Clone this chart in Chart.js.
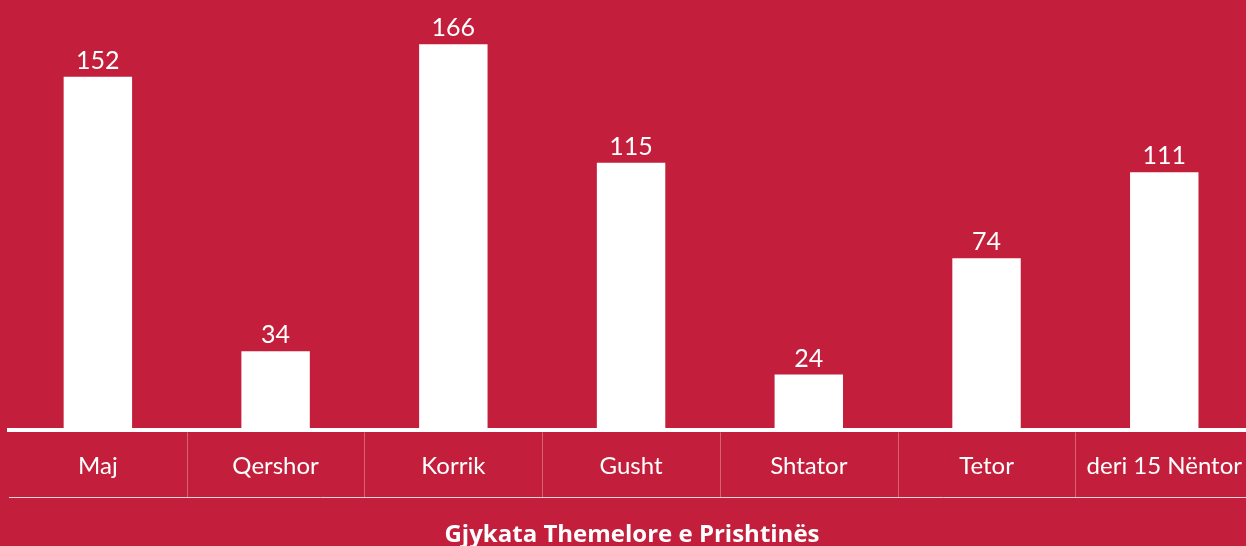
<!DOCTYPE html>
<html>
<head>
<meta charset="utf-8">
<script src="https://cdn.jsdelivr.net/npm/chart.js@4/dist/chart.umd.min.js"></script>
<style>
    html, body { margin: 0; padding: 0; background: #c31f3c; overflow: hidden; }
    #wrap { width: 1255px; height: 546px; position: relative; }
</style>
</head>
<body>
<div id="wrap"><canvas id="courtChart"></canvas></div>
<script>
const months = ['Maj', 'Qershor', 'Korrik', 'Gusht', 'Shtator', 'Tetor', 'deri 15 Nëntor'];
const cases = [152, 34, 166, 115, 24, 74, 111];
const chartTitle = 'Gjykata Themelore e Prishtinës';

const fontFamily = 'Lato, "Open Sans", sans-serif';

// numbers above the bars, separators under the axis, bottom rule
const decorations = {
    id: 'decorations',
    afterDatasetsDraw(chart) {
        const ctx = chart.ctx;
        const meta = chart.getDatasetMeta(0);
        ctx.save();
        ctx.fillStyle = '#fff';
        ctx.font = '25px ' + fontFamily;
        ctx.textAlign = 'center';
        ctx.textBaseline = 'alphabetic';
        meta.data.forEach((bar, i) => {
            ctx.fillText(cases[i], bar.x, bar.y - 8);
        });

        const x = chart.scales.x;
        const area = chart.chartArea;
        const ruleY = 497.5;
        ctx.strokeStyle = 'rgba(255,255,255,0.3)';
        ctx.lineWidth = 1;
        for (let i = 0; i < months.length - 1; i++) {
            const sx = Math.round((x.getPixelForValue(i) + x.getPixelForValue(i + 1)) / 2) + 0.5;
            ctx.beginPath();
            ctx.moveTo(sx, area.bottom + 2);
            ctx.lineTo(sx, ruleY);
            ctx.stroke();
        }
        ctx.strokeStyle = 'rgba(255,255,255,0.8)';
        ctx.beginPath();
        ctx.moveTo(area.left, ruleY);
        ctx.lineTo(chart.width, ruleY);
        ctx.stroke();
        ctx.restore();
    }
};

const ctx = document.getElementById('courtChart').getContext('2d');
const courtChart = new Chart(ctx, {
    type: 'bar',
    data: {
        labels: months,
        datasets: [{
            data: cases,
            backgroundColor: '#fff',
            borderWidth: 0,
            categoryPercentage: 1,
            barPercentage: 0.385
        }]
    },
    options: {
        responsive: true,
        maintainAspectRatio: false,
        animation: false,
        layout: { padding: { left: 9, right: 0, top: 0, bottom: -4 } },
        plugins: {
            legend: { display: false },
            tooltip: { enabled: false },
            title: {
                display: true,
                position: 'bottom',
                text: chartTitle,
                color: '#fff',
                font: { family: '"Open Sans", Lato, sans-serif', size: 24, weight: 'bold' },
                padding: { top: 28, bottom: 0 }
            }
        },
        scales: {
            y: {
                display: false,
                min: 0,
                max: 185
            },
            x: {
                offset: true,
                grid: { display: false },
                border: { display: true, color: '#fff', width: 4 },
                ticks: {
                    color: '#fff',
                    padding: 13,
                    maxRotation: 0,
                    autoSkip: false,
                    font: { family: fontFamily, size: 24 }
                }
            }
        }
    },
    plugins: [decorations]
});
</script>
</body>
</html>
